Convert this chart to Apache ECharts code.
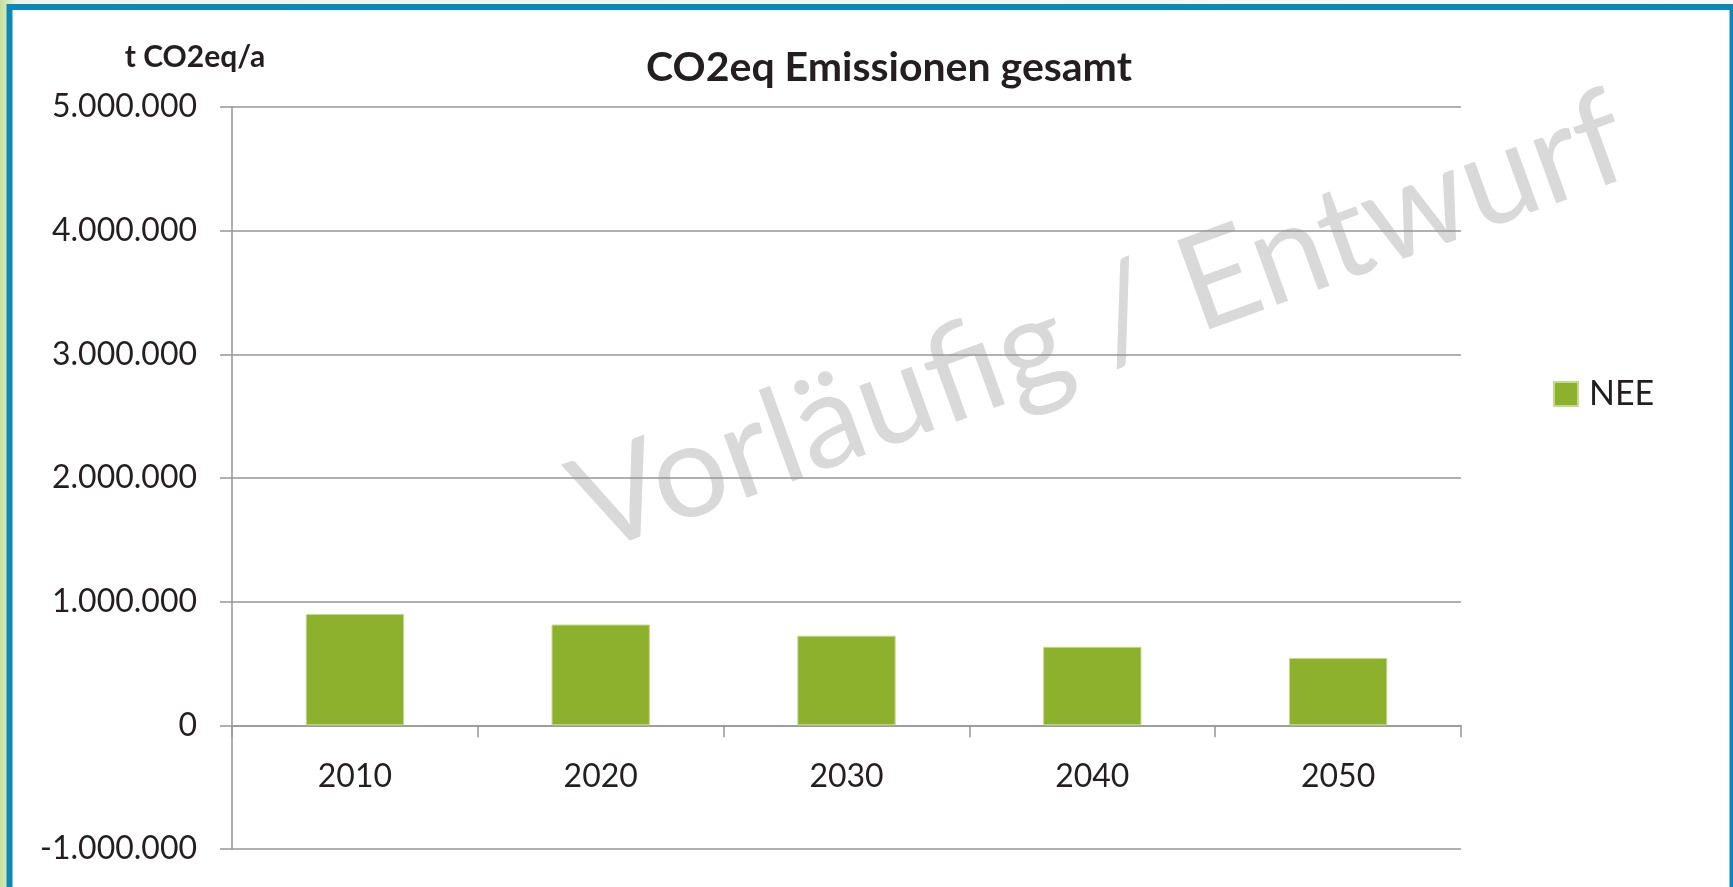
<!DOCTYPE html>
<html>
<head>
<meta charset="utf-8">
<script src="https://cdn.jsdelivr.net/npm/echarts@6/dist/echarts.min.js"></script>
<style>
  html, body { margin: 0; padding: 0; background: #fff; }
  #chart { width: 1733px; height: 887px; }
</style>
</head>
<body>
<div id="chart"></div>
<script>
// data
var years = ['2010', '2020', '2030', '2040', '2050'];
var nee = [900000, 815000, 725000, 635000, 545000];
var yMin = -1000000, yMax = 5000000, yStep = 1000000;

var textColor = '#231f20';
var lineColor = '#969696';
var font = 'Lato, "Noto Sans", sans-serif';

// 5000000 -> 5.000.000
function fmt(v) {
  var s = String(Math.abs(v)).replace(/\B(?=(\d{3})+(?!\d))/g, '.');
  return (v < 0 ? '-' : '') + s;
}

var chart = echarts.init(document.getElementById('chart'), null, { renderer: 'canvas' });

var option = {
  animation: false,
  backgroundColor: '#fff',
  textStyle: { fontFamily: font },
  graphic: [
    // page background + blue frame
    { type: 'rect', z: -30, shape: { x: 0, y: 0, width: 1733, height: 887 },
      style: { fill: new echarts.graphic.LinearGradient(0, 0, 1, 0, [
        { offset: 0, color: '#c4df9e' }, { offset: 0.01, color: '#eef5e6' }, { offset: 1, color: '#f7faf3' }]) } },
    { type: 'rect', z: -29, shape: { x: 9.5, y: 7, width: 1723, height: 900 },
      style: { fill: '#fff', stroke: '#0a88b8', lineWidth: 6 } },
    // watermark
    { type: 'text', z: -20, x: 1100, y: 324, rotation: 20 * Math.PI / 180,
      style: { text: 'Vorläufig / Entwurf', fill: '#d9d9d9', font: '132px ' + font,
        textAlign: 'center', textVerticalAlign: 'middle' } },
    { type: 'text', x: 889, y: 68,
      style: { text: 'CO2eq Emissionen gesamt', fill: textColor, font: 'bold 41px ' + font,
        textAlign: 'center', textVerticalAlign: 'middle' } },
    { type: 'text', x: 195, y: 57,
      style: { text: 't CO2eq/a', fill: textColor, font: 'bold 30px ' + font,
        textAlign: 'center', textVerticalAlign: 'middle' } }
  ],
  legend: {
    data: ['NEE'],
    orient: 'vertical',
    left: 1548,
    top: 372,
    icon: 'rect',
    itemWidth: 24,
    itemHeight: 24,
    textStyle: { fontSize: 34, color: textColor, fontFamily: font, padding: [0, 0, 0, 6] }
  },
  grid: { left: 232, right: 272, top: 107, bottom: 38, outerBoundsMode: 'none' },
  xAxis: {
    type: 'category',
    data: years,
    axisLine: { onZero: true, lineStyle: { color: lineColor, width: 1.5 } },
    axisTick: { show: true, length: 12, lineStyle: { color: lineColor, width: 1.5 } },
    // labels sit under the zero line, not under the grid bottom
    axisLabel: { color: textColor, fontSize: 32, margin: -88, fontFamily: font }
  },
  yAxis: {
    type: 'value',
    min: yMin,
    max: yMax,
    interval: yStep,
    axisLine: { show: true, lineStyle: { color: lineColor, width: 1.5 } },
    axisTick: { show: true, length: 12, lineStyle: { color: lineColor, width: 1.5 } },
    splitLine: { show: true, lineStyle: { color: lineColor, width: 1.5 } },
    axisLabel: { color: textColor, fontSize: 32, margin: 35, fontFamily: font, formatter: fmt }
  },
  series: [
    {
      name: 'NEE',
      type: 'bar',
      data: nee,
      barWidth: '40%',
      itemStyle: { color: '#8db02d', borderColor: '#c3db8c', borderWidth: 1 }
    }
  ]
};

chart.setOption(option);
</script>
</body>
</html>
